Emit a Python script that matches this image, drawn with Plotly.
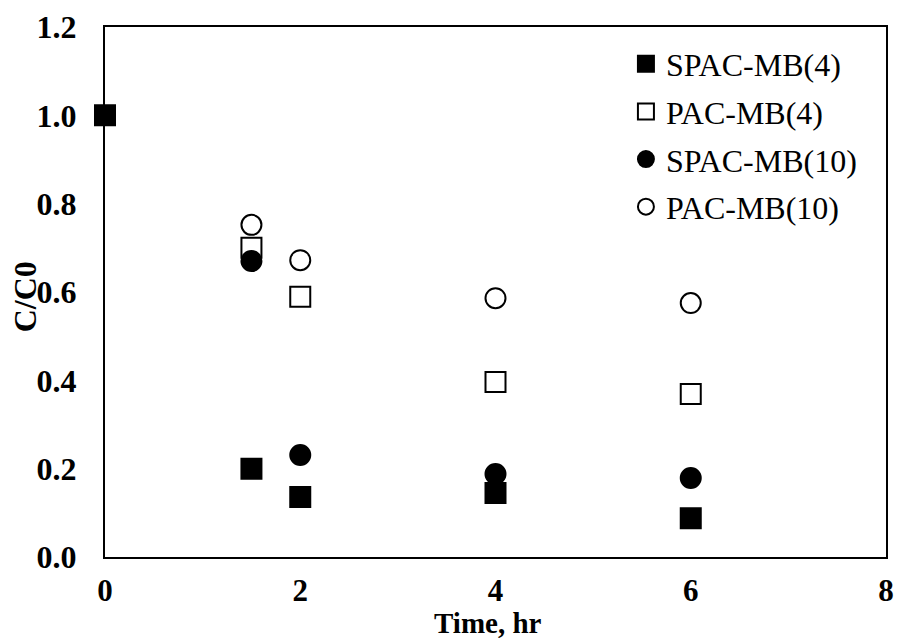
import plotly.graph_objects as go

# Data
spac4_x = [0, 1.5, 2, 4, 6]
spac4_y = [1.0, 0.20, 0.136, 0.145, 0.088]
pac4_x = [1.5, 2, 4, 6]
pac4_y = [0.70, 0.589, 0.396, 0.369]
spac10_x = [1.5, 2, 4, 6]
spac10_y = [0.67, 0.231, 0.188, 0.179]
pac10_x = [1.5, 2, 4, 6]
pac10_y = [0.752, 0.672, 0.586, 0.575]

x_ticks = [0, 2, 4, 6, 8]
y_ticks = [0.0, 0.2, 0.4, 0.6, 0.8, 1.0, 1.2]

series = [
    ("SPAC-MB(4)", spac4_x, spac4_y, "square"),
    ("PAC-MB(4)", pac4_x, pac4_y, "square-open"),
    ("SPAC-MB(10)", spac10_x, spac10_y, "circle"),
    ("PAC-MB(10)", pac10_x, pac10_y, "circle-open"),
]

fig = go.Figure()
for i, (name, xs, ys, sym) in enumerate(series):
    fig.add_trace(go.Scatter(
        x=xs, y=ys, mode="markers", name=name,
        legendgroup=f"g{i}",
        cliponaxis=False,
        marker=dict(symbol=sym, size=20, color="black",
                    line=dict(color="black", width=2)),
    ))

serif = "Liberation Serif, Times New Roman, serif"
fig.update_layout(
    width=897, height=641,
    margin=dict(l=105, r=11, t=27, b=84, autoexpand=False),
    paper_bgcolor="white", plot_bgcolor="white",
    font=dict(family=serif, color="black"),
    showlegend=True,
    legend=dict(
        x=0.667, y=0.982, xanchor="left", yanchor="top",
        font=dict(family=serif, size=32, color="black"),
        bgcolor="rgba(0,0,0,0)",
        tracegroupgap=3,
        itemwidth=30,
    ),
    xaxis=dict(
        range=[0, 8], tickvals=x_ticks, ticktext=[f"<b>{v}</b>" for v in x_ticks],
        showgrid=False, zeroline=False, automargin=False,
        showline=True, linecolor="black", linewidth=2, mirror=True,
        ticks="", tickfont=dict(family=serif, size=31, color="black"),
        ticklabelstandoff=5,
    ),
    yaxis=dict(
        range=[0, 1.2], tickvals=y_ticks, ticktext=[f"<b>{v:.1f}</b>" for v in y_ticks],
        showgrid=False, zeroline=False, automargin=False,
        showline=True, linecolor="black", linewidth=2, mirror=True,
        ticks="", tickfont=dict(family=serif, size=32, color="black"),
        ticklabelstandoff=20,
    ),
    annotations=[
        dict(text="<b>Time, hr</b>", xref="paper", yref="paper", x=0.49, y=-0.1245,
             xanchor="center", yanchor="middle", showarrow=False,
             font=dict(family=serif, size=29, color="black")),
        dict(text="<b>C/C0</b>", xref="paper", yref="paper", x=-0.1024, y=0.49,
             xanchor="center", yanchor="middle", showarrow=False, textangle=-90,
             font=dict(family=serif, size=32, color="black")),
    ],
)
fig.write_html("out.html")
